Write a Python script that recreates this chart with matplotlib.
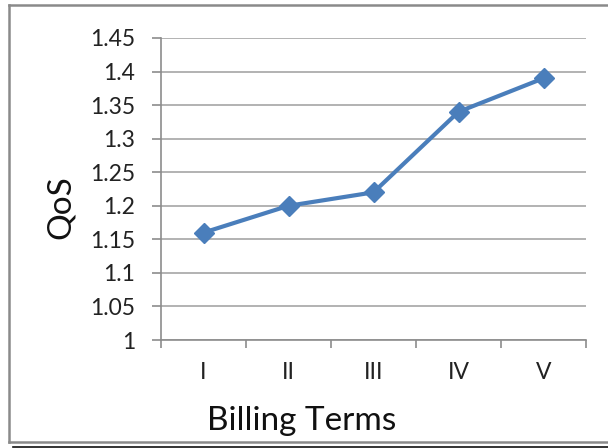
import matplotlib
matplotlib.use("Agg")
import matplotlib.pyplot as plt
from matplotlib.lines import Line2D
from matplotlib.ticker import FixedLocator

categories = ["I", "II", "III", "IV", "V"]
qos_values = [1.16, 1.20, 1.22, 1.34, 1.39]
y_ticks = [1.0, 1.05, 1.1, 1.15, 1.2, 1.25, 1.3, 1.35, 1.4, 1.45]
y_tick_labels = ["1", "1.05", "1.1", "1.15", "1.2", "1.25", "1.3", "1.35", "1.4", "1.45"]

plt.rcParams["font.family"] = ["Lato", "DejaVu Sans"]

W, H = 608, 448
fig = plt.figure(figsize=(W / 100, H / 100), dpi=100)
ax = fig.add_axes([161 / W, 1 - 340 / H, (586 - 161) / W, (340 - 38) / H])

positions = list(range(len(categories)))
ax.plot(positions, qos_values, color="#4A7EBB", linewidth=3,
        marker="D", markersize=10, markerfacecolor="#4A7EBB",
        markeredgecolor="#4A7EBB", zorder=3)

ax.set_xlim(-0.5, len(categories) - 0.5)
ax.set_ylim(1.0, 1.45)
ax.set_yticks(y_ticks)
ax.set_yticklabels(y_tick_labels)
ax.set_xticks(positions)
ax.set_xticklabels(categories)
ax.xaxis.set_minor_locator(FixedLocator([p + 0.5 for p in [-1] + positions]))

grid_color = "#A6A6A6"
ax.grid(axis="y", color=grid_color, linewidth=1.2)
ax.set_axisbelow(True)
for side in ["top", "right"]:
    ax.spines[side].set_visible(False)
for side in ["left", "bottom"]:
    ax.spines[side].set_color("#8C8C8C")
    ax.spines[side].set_linewidth(1.2)

tick_font = 16.5
ax.tick_params(axis="y", which="major", length=6.5, width=1.2, color="#8C8C8C",
               labelsize=tick_font, pad=12, labelcolor="#222222")
ax.tick_params(axis="x", which="major", length=0, labelsize=tick_font, pad=16,
               labelcolor="#222222")
ax.tick_params(axis="x", which="minor", length=6, width=1.2, color="#8C8C8C")

fig.text(302 / W, 1 - 421 / H, "Billing Terms", fontsize=24, ha="center",
         va="center", color="#111111")
fig.text(61 / W, 1 - 207 / H, "QoS", fontsize=24, ha="center", va="center",
         rotation=90, color="#111111")

# chart frame (left/top/bottom visible, right runs off the image)
frame_color = "#8A8A8A"
fig.add_artist(Line2D([9 / W, 9 / W], [1 - 5 / H, 1 - 442 / H], color=frame_color,
                      linewidth=1.8, transform=fig.transFigure))
fig.add_artist(Line2D([9 / W, 1.0], [1 - 5 / H, 1 - 5 / H], color=frame_color,
                      linewidth=1.8, transform=fig.transFigure))
fig.add_artist(Line2D([9 / W, 1.0], [1 - 442 / H, 1 - 442 / H], color=frame_color,
                      linewidth=1.8, transform=fig.transFigure))
fig.add_artist(Line2D([13 / W, 1.0], [1 - 446.5 / H, 1 - 446.5 / H], color="#111111",
                      linewidth=1.2, transform=fig.transFigure))

fig.savefig("out.png", dpi=100)
